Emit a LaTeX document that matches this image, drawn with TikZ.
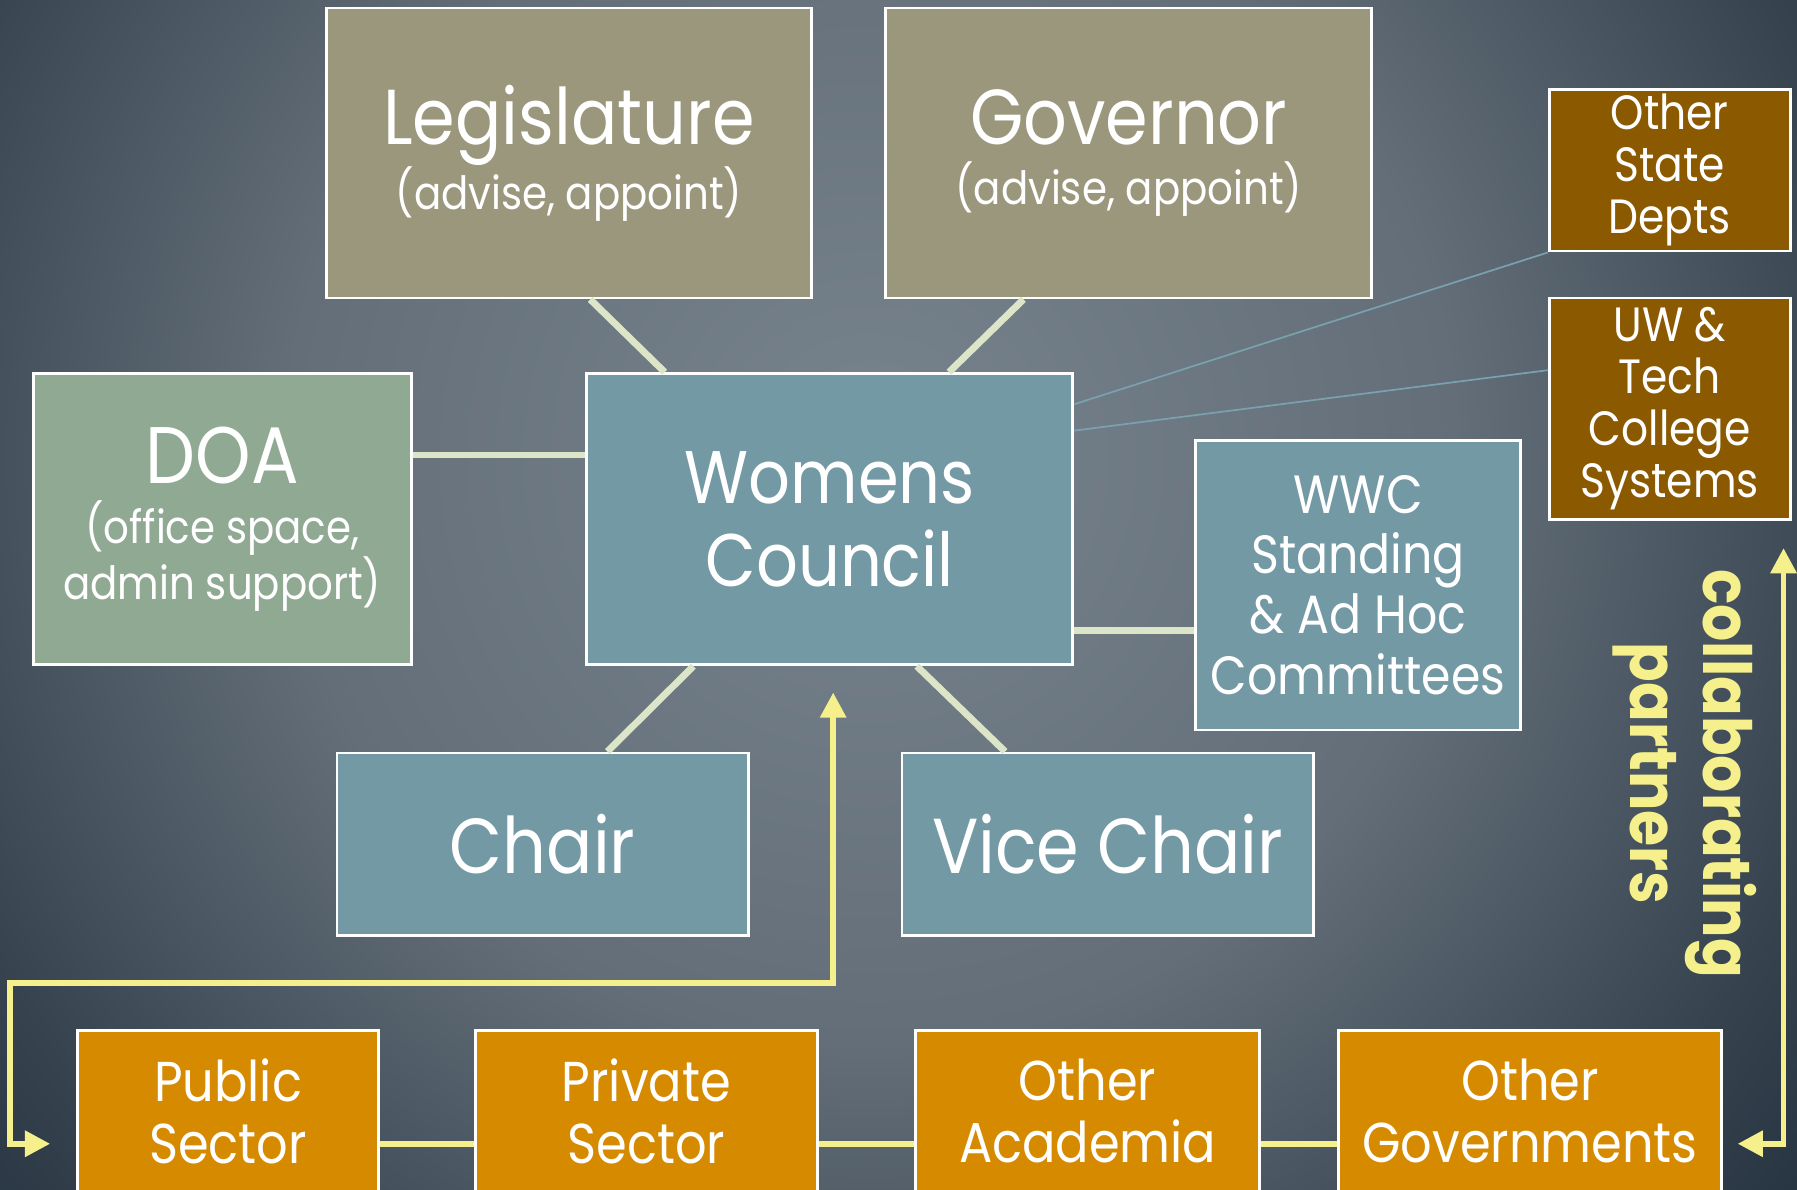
\documentclass[tikz,border=0pt]{standalone}
\usepackage{fontspec}
\setmainfont{Poppins}[FakeStretch=0.88]
\usetikzlibrary{arrows.meta, positioning, calc}

\definecolor{bgin}{HTML}{78848D}
\definecolor{bgmid}{HTML}{636E78}
\definecolor{bgdark}{HTML}{36434F}
\definecolor{bgout}{HTML}{1F2C39}
\definecolor{olive}{HTML}{9A977C}
\definecolor{sage}{HTML}{8FA993}
\definecolor{teal}{HTML}{7399A5}
\definecolor{brown}{HTML}{8B5A00}
\definecolor{amber}{HTML}{D68A00}
\definecolor{cream}{HTML}{DDE5C9}
\definecolor{lemon}{HTML}{F5F08C}
\definecolor{thinblue}{HTML}{79A1AE}

\pgfdeclareradialshading{slidebg}{\pgfpoint{0bp}{0bp}}{color(0bp)=(bgin); color(15bp)=(bgmid); color(26bp)=(bgdark); color(33bp)=(bgout); color(50bp)=(bgout)}

\newcommand{\subfont}{\fontsize{40}{45}\selectfont}

\begin{document}
\begin{tikzpicture}[x=1pt,y=-1pt,
	box/.style={draw=white,line width=2.5,text=white,align=center,inner sep=0},
	link/.style={draw=cream,line width=6},
	thin/.style={draw=thinblue,line width=1.5},
	partner/.style={draw=lemon,line width=5}]
	\clip (0,0) rectangle (1568,1038);
	\shade[shading=slidebg] (-90,-450) rectangle (1610,1250);
	
	% top row
	\node[box,fill=olive,minimum width=423,minimum height=253,font=\fontsize{68}{52}\selectfont] (leg) at (496.5,133.5) {Legislature\\\subfont (advise, appoint)};
	\node[box,fill=olive,minimum width=424,minimum height=253,font=\fontsize{68}{52}\selectfont] (gov) at (985,133.5) {Governor\\\subfont (advise, appoint)};
	
	% middle row
	\node[box,fill=sage,minimum width=330,minimum height=254,font=\fontsize{70}{45}\selectfont] (doa) at (194,453) {DOA\\[7]\subfont (office space,\\\subfont admin support)};
	\node[box,fill=teal,minimum width=424,minimum height=254,font=\fontsize{65}{72}\selectfont] (wc) at (724,453) {Womens\\Council};
	\node[box,fill=teal,minimum width=284,minimum height=253,font=\fontsize{47}{52.5}\selectfont] (wwc) at (1185,510.5) {WWC\\Standing\\\&~Ad Hoc\\Committees};
	
	% partners on the right
	\node[box,fill=brown,minimum width=210,minimum height=141,font=\fontsize{42}{45.5}\selectfont] (osd) at (1457,148.5) {Other\\State\\Depts};
	\node[box,fill=brown,minimum width=210,minimum height=193,font=\fontsize{42}{45.5}\selectfont] (uw) at (1457,356.5) {UW \&\\Tech\\College\\Systems};
	
	% officers
	\node[box,fill=teal,minimum width=359,minimum height=159,font=\fontsize{68}{72}\selectfont] (chair) at (473.5,736.5) {Chair};
	\node[box,fill=teal,minimum width=359,minimum height=159,font=\fontsize{68}{72}\selectfont] (vice) at (966.5,736.5) {Vice Chair};
	
	% bottom row
	\node[box,fill=amber,minimum width=262,minimum height=141,font=\fontsize{49}{54}\selectfont] (pub) at (199,969.5) {Public\\Sector};
	\node[box,fill=amber,minimum width=298,minimum height=141,font=\fontsize{49}{54}\selectfont] (priv) at (564,969.5) {Private\\Sector};
	\node[box,fill=amber,minimum width=300,minimum height=141,font=\fontsize{49}{54}\selectfont] (acad) at (949,969.5) {Other\\Academia};
	\node[box,fill=amber,minimum width=334,minimum height=141,font=\fontsize{49}{54}\selectfont] (othgov) at (1335,969.5) {Other\\Governments};
	
	\node[rotate=-90,text=lemon,align=center,inner sep=0,font=\bfseries\fontsize{58}{64}\selectfont] (collab) at (1470,675) {collaborating\\partners};
	
	\coordinate (rowline) at (0,998);
	\coordinate (loop) at (0,858);
	
	% connectors
	\path[link] ([xshift=18.5]leg.south) -- ([xshift=-144]wc.north);
	\path[link] ([xshift=-92]gov.south) -- ([xshift=104]wc.north);
	\path[link] ([yshift=56]doa.east) -- ([yshift=56]wc.west);
	\path[link] ([xshift=-119]wc.south) -- ([xshift=56.5]chair.north);
	\path[link] ([xshift=76]wc.south) -- ([xshift=-89.5]vice.north);
	\path[link] ([yshift=-97]wc.east) -- ([yshift=-97]wc.east -| wwc.west);
	
	\path[thin] ([yshift=-28]wc.north east) -- (osd.south west);
	\path[thin] ([yshift=-51]wc.north east) -- ([yshift=33.5]uw.west);
	
	\path[partner] (pub.east |- rowline) -- (priv.west |- rowline);
	\path[partner] (priv.east |- rowline) -- (acad.west |- rowline);
	\path[partner] (acad.east |- rowline) -- (othgov.west |- rowline);
	
	\draw[partner,{Triangle[length=22,width=22]}-{Triangle[length=22,width=22]},shorten <=23,shorten >=23]
		(pub.west |- rowline) -- ++(-58,0) |- ([xshift=3]wc.south |- loop) -- ([xshift=3]wc.south);
	\draw[partner,{Triangle[length=22,width=22]}-{Triangle[length=22,width=22]},shorten <=13,shorten >=24]
		(othgov.east |- rowline) -| ([xshift=-7]uw.south east);
\end{tikzpicture}
\end{document}
